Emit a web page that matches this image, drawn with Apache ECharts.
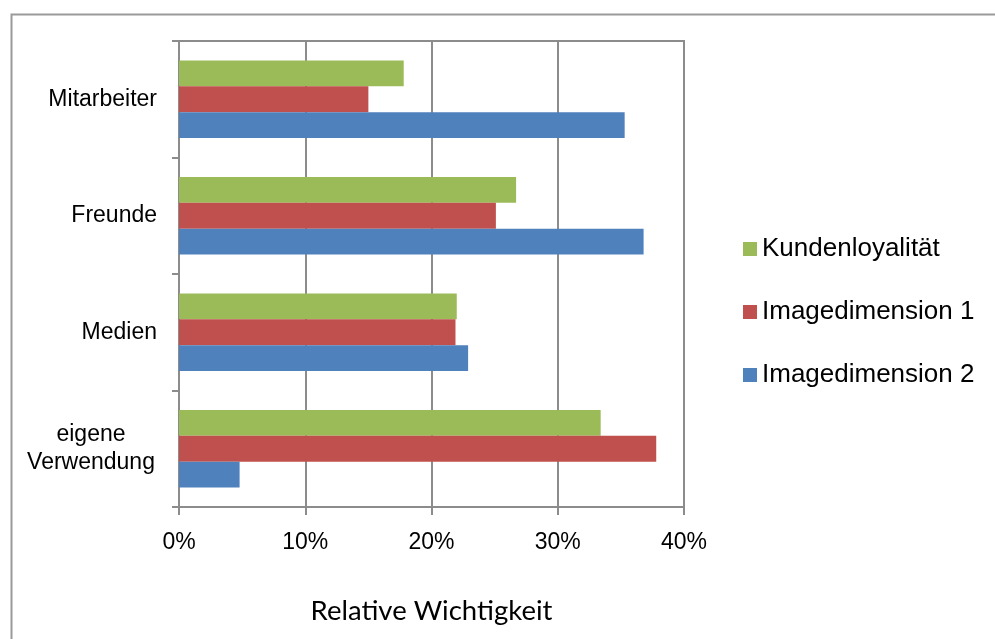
<!DOCTYPE html>
<html>
<head>
<meta charset="utf-8">
<script src="https://cdn.jsdelivr.net/npm/echarts@6/dist/echarts.min.js"></script>
<style>
html,body{margin:0;padding:0;background:#fff;}
#chart{width:995px;height:639px;}
</style>
</head>
<body>
<div id="chart"></div>
<script>
// Categories listed bottom -> top (as drawn on the category axis)
const categories = ['eigene Verwendung', 'Medien', 'Freunde', 'Mitarbeiter'];
const kundenloyalitaet = [33.4, 22.0, 26.7, 17.8];
const imagedimension1 = [37.8, 21.9, 25.1, 15.0];
const imagedimension2 = [4.8, 22.9, 36.8, 35.3];
const xTicks = [0, 10, 20, 30, 40];
const axisTitle = 'Relative Wichtigkeit';

const gridColor = '#8c8c8c';
const chart = echarts.init(document.getElementById('chart'), null, {renderer: 'canvas'});

chart.setOption({
  animation: false,
  backgroundColor: '#ffffff',
  graphic: [{
    type: 'rect',
    left: 9, top: 12,
    shape: {x: 0, y: 0, width: 1000, height: 700},
    style: {fill: 'none', stroke: '#9a9a9a', lineWidth: 2},
    silent: true
  }],
  legend: {
    orient: 'vertical',
    left: 738,
    top: 231,
    itemWidth: 14,
    itemHeight: 14,
    itemGap: 37,
    icon: 'rect',
    data: ['Kundenloyalität', 'Imagedimension 1', 'Imagedimension 2'],
    textStyle: {fontFamily: 'Liberation Sans', fontSize: 26, color: '#000'}
  },
  grid: {
    left: 179, right: 311, top: 41, bottom: 132,
    show: true, borderColor: gridColor, borderWidth: 2, backgroundColor: 'transparent'
  },
  xAxis: {
    type: 'value',
    min: xTicks[0], max: xTicks[xTicks.length - 1], interval: 10,
    name: axisTitle,
    nameLocation: 'middle',
    nameGap: 90,
    nameTextStyle: {fontFamily: 'Lato', fontSize: 27.5, color: '#000'},
    axisLine: {show: true, lineStyle: {color: gridColor, width: 2}},
    axisTick: {show: true, length: 8, lineStyle: {color: gridColor, width: 2}},
    axisLabel: {
      formatter: '{value}%',
      fontFamily: 'Liberation Sans', fontSize: 23, color: '#000', margin: 24
    },
    splitLine: {show: true, lineStyle: {color: gridColor, width: 2}}
  },
  yAxis: {
    type: 'category',
    data: categories,
    axisLine: {show: true, lineStyle: {color: gridColor, width: 2}},
    axisTick: {show: true, length: 7, lineStyle: {color: gridColor, width: 2}},
    axisLabel: {
      margin: 22,
      fontFamily: 'Liberation Sans', fontSize: 23, color: '#000',
      formatter: function (v) {
        if (v.indexOf(' ') >= 0) {
          return v.split(' ').map(function (p) { return '{c|' + p + '}'; }).join('\n');
        }
        return v;
      },
      rich: {
        c: {width: 132, align: 'center', fontFamily: 'Liberation Sans', fontSize: 23, lineHeight: 28, color: '#000'}
      }
    },
    splitLine: {show: false}
  },
  series: [
    {name: 'Kundenloyalität', type: 'bar', data: kundenloyalitaet, itemStyle: {color: '#9BBB59'}, barGap: '0%', barCategoryGap: '33.6%'},
    {name: 'Imagedimension 1', type: 'bar', data: imagedimension1, itemStyle: {color: '#C0504D'}, barGap: '0%', barCategoryGap: '33.6%'},
    {name: 'Imagedimension 2', type: 'bar', data: imagedimension2, itemStyle: {color: '#4F81BD'}, barGap: '0%', barCategoryGap: '33.6%'}
  ]
});
</script>
</body>
</html>
